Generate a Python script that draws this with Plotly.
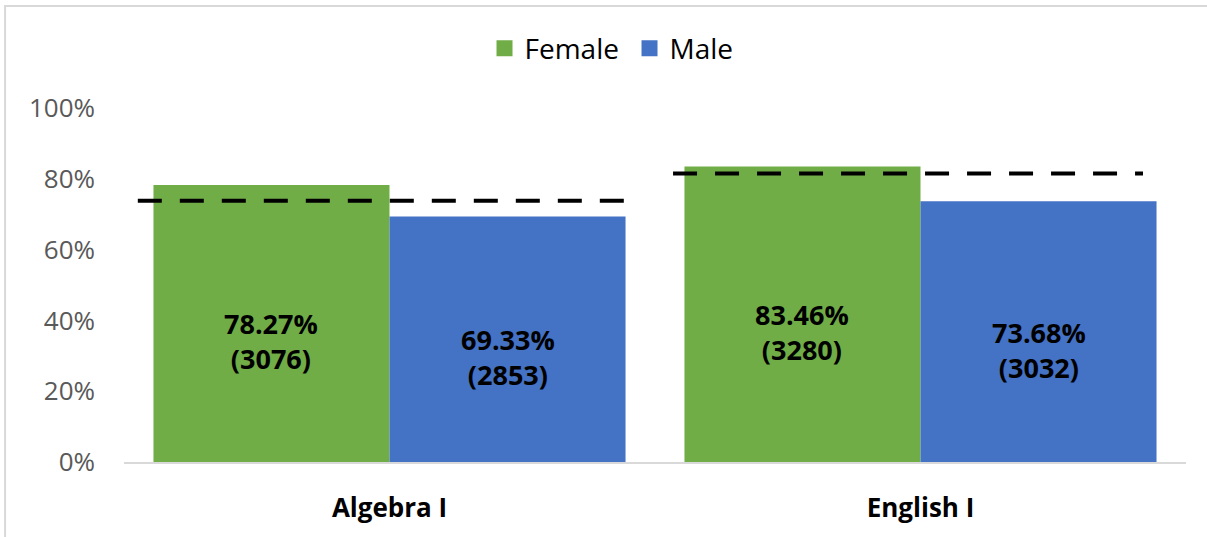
import plotly.graph_objects as go

# ---- data ----
courses = ["Algebra I", "English I"]
female_rate = [0.7827, 0.8346]
female_count = [3076, 3280]
male_rate = [0.6933, 0.7368]
male_count = [2853, 3032]
overall_rate = [0.738, 0.815]   # dashed reference level per course

# ---- style ----
GREEN = "#70AD47"
BLUE = "#4472C4"
FONT = "Open Sans"
BARGAP = 0.111
HALF = (1 - BARGAP) / 4          # offset of each bar centre from the course centre
DASH_SPANS = [(-0.474, 0.444), (-0.466, 0.419)]

xpos = list(range(len(courses)))

fig = go.Figure()

fig.add_trace(go.Bar(x=xpos, y=female_rate, name="Female", marker=dict(color=GREEN, line=dict(width=0)),
                     showlegend=False, hoverinfo="skip"))
fig.add_trace(go.Bar(x=xpos, y=male_rate, name="Male", marker=dict(color=BLUE, line=dict(width=0)),
                     showlegend=False, hoverinfo="skip"))

# dashed reference lines, one per course
for i, level in enumerate(overall_rate):
    a, b = DASH_SPANS[i]
    fig.add_trace(go.Scatter(x=[i + a, i + b], y=[level, level], mode="lines",
                             line=dict(color="black", width=4, dash="24px,18px"),
                             showlegend=False, hoverinfo="skip"))

# legend entries with larger square swatches
for name, col in [("Female", GREEN), ("Male", BLUE)]:
    fig.add_trace(go.Scatter(x=[None], y=[None], mode="markers", name=name,
                             marker=dict(symbol="square", size=17, color=col)))

# value labels: percentage line at the bar middle, count on the line below
annotations = []
for rates, counts, side in [(female_rate, female_count, -1), (male_rate, male_count, 1)]:
    for i, (r, c) in enumerate(zip(rates, counts)):
        annotations.append(dict(x=i + side * HALF, y=r / 2, xref="x", yref="y",
                                text=f"{r * 100:.2f}%<br>({c})", yshift=-18,
                                showarrow=False, align="center",
                                font=dict(family=FONT, size=27, color="black", weight="bold"),
                                yanchor="middle", xanchor="center"))

fig.update_layout(
    width=1207, height=537,
    margin=dict(l=124, r=21, t=108, b=71),
    paper_bgcolor="white", plot_bgcolor="white",
    barmode="group", bargap=BARGAP, bargroupgap=0,
    font=dict(family=FONT, size=26, color="#595959"),
    legend=dict(orientation="h", x=0.476, xanchor="center", y=1.168, yanchor="middle",
                font=dict(family=FONT, size=28, color="black"), itemsizing="trace",
                entrywidth=100, bgcolor="rgba(0,0,0,0)"),
    xaxis=dict(range=[-0.5, 1.5], tickvals=xpos, ticktext=courses, showgrid=False, zeroline=False,
               showline=True, linecolor="#D9D9D9", linewidth=2, ticks="",
               tickfont=dict(family=FONT, size=26, color="black", weight="bold"),
               ticklabelstandoff=22, fixedrange=True),
    yaxis=dict(range=[0, 1], dtick=0.2, tickformat=".0%", showgrid=False, zeroline=False,
               showline=False, ticks="", tickfont=dict(family=FONT, size=26, color="#595959"),
               ticklabelstandoff=28, fixedrange=True),
    annotations=annotations,
    shapes=[dict(type="rect", xref="paper", yref="paper", x0=-0.112, x1=1.3, y0=-0.5, y1=1.288,
                 line=dict(color="#D9D9D9", width=2), fillcolor="rgba(0,0,0,0)", layer="below")],
    showlegend=True,
)

fig.write_html("out.html")
